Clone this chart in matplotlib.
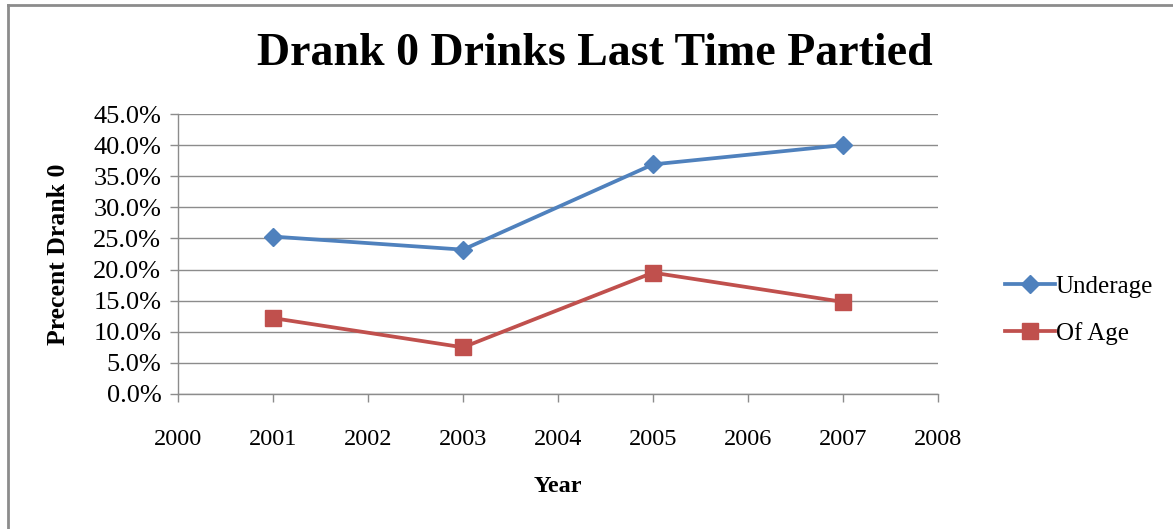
import matplotlib
matplotlib.use("Agg")
import matplotlib.pyplot as plt
from matplotlib.ticker import FuncFormatter, MultipleLocator
from matplotlib.lines import Line2D

years = [2001, 2003, 2005, 2007]
underage = [25.3, 23.2, 36.9, 40.0]
of_age = [12.2, 7.5, 19.5, 14.8]
series_names = ["Underage", "Of Age"]
title = "Drank 0 Drinks Last Time Partied"

plt.rcParams['font.family'] = ['Liberation Serif', 'DejaVu Serif']

W, H = 1173, 529
fig = plt.figure(figsize=(W/100, H/100), dpi=100)
ax = fig.add_axes([178/W, 1-394/H, (938-178)/W, (394-114)/H])

blue = '#4F81BD'
red = '#C0504D'
ax.plot(years, underage, color=blue, lw=2.7, marker='D', markersize=9.5, label=series_names[0])
ax.plot(years, of_age, color=red, lw=2.7, marker='s', markersize=11, label=series_names[1])

ax.set_xlim(2000, 2008)
ax.set_ylim(0, 45)
ax.xaxis.set_major_locator(MultipleLocator(1))
ax.yaxis.set_major_locator(MultipleLocator(5))
ax.yaxis.set_major_formatter(FuncFormatter(lambda v, p: f"{v:.1f}%"))
ax.grid(axis='y', color='#8c8c8c', lw=1)
ax.set_axisbelow(True)
for s in ['top', 'right']:
    ax.spines[s].set_visible(False)
for s in ['left', 'bottom']:
    ax.spines[s].set_color('#8c8c8c')
    ax.spines[s].set_linewidth(1)
ax.tick_params(axis='both', colors='#8c8c8c', length=6, width=1, labelcolor='black')
ax.tick_params(axis='x', pad=19, labelsize=17.5)
ax.tick_params(axis='y', pad=6, labelsize=19)

ax.set_xlabel("Year", fontsize=17.5, fontweight='bold', labelpad=19)
ax.set_ylabel("Precent Drank 0", fontsize=18.5, fontweight='bold', labelpad=17)
fig.text(595/W, 1-54/H, title, fontsize=33, fontweight='bold', ha='center', va='center')

leg = ax.legend(loc='center left', bbox_to_anchor=(1.058, 0.30), frameon=False, fontsize=18,
                handlelength=2.0, handletextpad=0.05, labelspacing=0.95)

border = '#8c8c8c'
fig.add_artist(Line2D([8/W, 8/W], [0, 1-5/H], transform=fig.transFigure, color=border, lw=2))
fig.add_artist(Line2D([8/W, 1], [1-5/H, 1-5/H], transform=fig.transFigure, color=border, lw=2))

fig.savefig("out.png", dpi=100)
